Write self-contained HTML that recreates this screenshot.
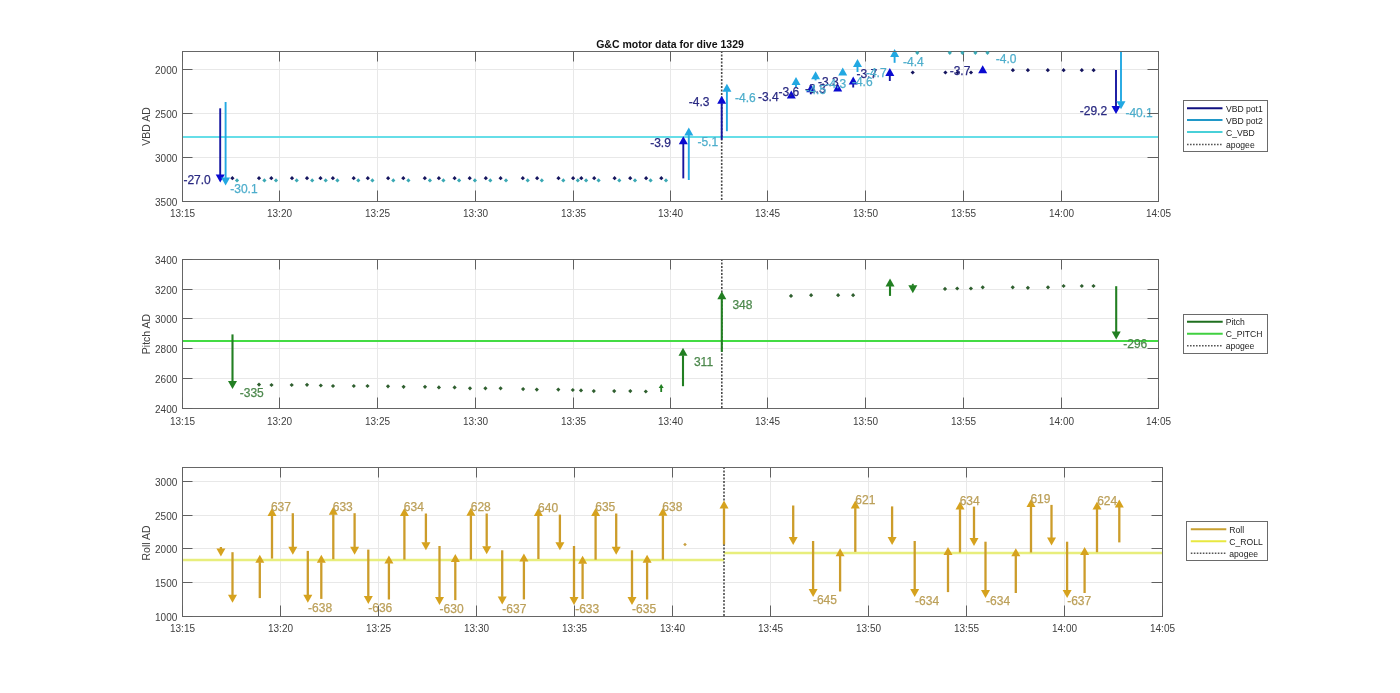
<!DOCTYPE html><html><head><meta charset="utf-8"><style>html,body{margin:0;padding:0;background:#fff;width:1400px;height:693px;overflow:hidden}svg{display:block;will-change:transform}</style></head><body>
<svg width="1400" height="693" viewBox="0 0 1400 693" font-family='"Liberation Sans", sans-serif'>
<rect width="1400" height="693" fill="#fff"/>
<line x1="279.50" y1="51" x2="279.50" y2="201" stroke="#e8e8e8" stroke-width="1"/>
<line x1="377.50" y1="51" x2="377.50" y2="201" stroke="#e8e8e8" stroke-width="1"/>
<line x1="475.50" y1="51" x2="475.50" y2="201" stroke="#e8e8e8" stroke-width="1"/>
<line x1="573.50" y1="51" x2="573.50" y2="201" stroke="#e8e8e8" stroke-width="1"/>
<line x1="670.50" y1="51" x2="670.50" y2="201" stroke="#e8e8e8" stroke-width="1"/>
<line x1="767.50" y1="51" x2="767.50" y2="201" stroke="#e8e8e8" stroke-width="1"/>
<line x1="865.50" y1="51" x2="865.50" y2="201" stroke="#e8e8e8" stroke-width="1"/>
<line x1="963.50" y1="51" x2="963.50" y2="201" stroke="#e8e8e8" stroke-width="1"/>
<line x1="1061.50" y1="51" x2="1061.50" y2="201" stroke="#e8e8e8" stroke-width="1"/>
<line x1="182" y1="69.50" x2="1158" y2="69.50" stroke="#e8e8e8" stroke-width="1"/>
<line x1="182" y1="113.50" x2="1158" y2="113.50" stroke="#e8e8e8" stroke-width="1"/>
<line x1="182" y1="157.50" x2="1158" y2="157.50" stroke="#e8e8e8" stroke-width="1"/>
<line x1="182" y1="137" x2="1158" y2="137" stroke="#66dee8" stroke-width="2.2"/>
<line x1="721.7" y1="51" x2="721.7" y2="201" stroke="#4a4a4a" stroke-width="1.6" stroke-dasharray="2 1.5"/>
<path d="M232.40 176.10L234.50 178.20L232.40 180.30L230.30 178.20Z" fill="#15155e"/>
<path d="M259.00 176.10L261.10 178.20L259.00 180.30L256.90 178.20Z" fill="#15155e"/>
<path d="M271.30 176.10L273.40 178.20L271.30 180.30L269.20 178.20Z" fill="#15155e"/>
<path d="M292.00 176.10L294.10 178.20L292.00 180.30L289.90 178.20Z" fill="#15155e"/>
<path d="M307.00 176.10L309.10 178.20L307.00 180.30L304.90 178.20Z" fill="#15155e"/>
<path d="M320.50 176.10L322.60 178.20L320.50 180.30L318.40 178.20Z" fill="#15155e"/>
<path d="M332.90 176.10L335.00 178.20L332.90 180.30L330.80 178.20Z" fill="#15155e"/>
<path d="M353.70 176.10L355.80 178.20L353.70 180.30L351.60 178.20Z" fill="#15155e"/>
<path d="M367.80 176.10L369.90 178.20L367.80 180.30L365.70 178.20Z" fill="#15155e"/>
<path d="M388.10 176.10L390.20 178.20L388.10 180.30L386.00 178.20Z" fill="#15155e"/>
<path d="M403.30 176.10L405.40 178.20L403.30 180.30L401.20 178.20Z" fill="#15155e"/>
<path d="M424.80 176.10L426.90 178.20L424.80 180.30L422.70 178.20Z" fill="#15155e"/>
<path d="M438.90 176.10L441.00 178.20L438.90 180.30L436.80 178.20Z" fill="#15155e"/>
<path d="M454.60 176.10L456.70 178.20L454.60 180.30L452.50 178.20Z" fill="#15155e"/>
<path d="M469.70 176.10L471.80 178.20L469.70 180.30L467.60 178.20Z" fill="#15155e"/>
<path d="M485.80 176.10L487.90 178.20L485.80 180.30L483.70 178.20Z" fill="#15155e"/>
<path d="M500.60 176.10L502.70 178.20L500.60 180.30L498.50 178.20Z" fill="#15155e"/>
<path d="M522.80 176.10L524.90 178.20L522.80 180.30L520.70 178.20Z" fill="#15155e"/>
<path d="M537.10 176.10L539.20 178.20L537.10 180.30L535.00 178.20Z" fill="#15155e"/>
<path d="M558.50 176.10L560.60 178.20L558.50 180.30L556.40 178.20Z" fill="#15155e"/>
<path d="M573.10 176.10L575.20 178.20L573.10 180.30L571.00 178.20Z" fill="#15155e"/>
<path d="M581.30 176.10L583.40 178.20L581.30 180.30L579.20 178.20Z" fill="#15155e"/>
<path d="M594.20 176.10L596.30 178.20L594.20 180.30L592.10 178.20Z" fill="#15155e"/>
<path d="M614.60 176.10L616.70 178.20L614.60 180.30L612.50 178.20Z" fill="#15155e"/>
<path d="M630.20 176.10L632.30 178.20L630.20 180.30L628.10 178.20Z" fill="#15155e"/>
<path d="M646.10 176.10L648.20 178.20L646.10 180.30L644.00 178.20Z" fill="#15155e"/>
<path d="M661.30 176.10L663.40 178.20L661.30 180.30L659.20 178.20Z" fill="#15155e"/>
<path d="M237.00 178.30L239.10 180.40L237.00 182.50L234.90 180.40Z" fill="#3aa8b4"/>
<path d="M264.40 178.30L266.50 180.40L264.40 182.50L262.30 180.40Z" fill="#3aa8b4"/>
<path d="M276.00 178.30L278.10 180.40L276.00 182.50L273.90 180.40Z" fill="#3aa8b4"/>
<path d="M296.70 178.30L298.80 180.40L296.70 182.50L294.60 180.40Z" fill="#3aa8b4"/>
<path d="M312.20 178.30L314.30 180.40L312.20 182.50L310.10 180.40Z" fill="#3aa8b4"/>
<path d="M325.70 178.30L327.80 180.40L325.70 182.50L323.60 180.40Z" fill="#3aa8b4"/>
<path d="M337.40 178.30L339.50 180.40L337.40 182.50L335.30 180.40Z" fill="#3aa8b4"/>
<path d="M358.30 178.30L360.40 180.40L358.30 182.50L356.20 180.40Z" fill="#3aa8b4"/>
<path d="M372.40 178.30L374.50 180.40L372.40 182.50L370.30 180.40Z" fill="#3aa8b4"/>
<path d="M393.30 178.30L395.40 180.40L393.30 182.50L391.20 180.40Z" fill="#3aa8b4"/>
<path d="M408.40 178.30L410.50 180.40L408.40 182.50L406.30 180.40Z" fill="#3aa8b4"/>
<path d="M429.90 178.30L432.00 180.40L429.90 182.50L427.80 180.40Z" fill="#3aa8b4"/>
<path d="M443.40 178.30L445.50 180.40L443.40 182.50L441.30 180.40Z" fill="#3aa8b4"/>
<path d="M459.10 178.30L461.20 180.40L459.10 182.50L457.00 180.40Z" fill="#3aa8b4"/>
<path d="M474.90 178.30L477.00 180.40L474.90 182.50L472.80 180.40Z" fill="#3aa8b4"/>
<path d="M490.30 178.30L492.40 180.40L490.30 182.50L488.20 180.40Z" fill="#3aa8b4"/>
<path d="M506.00 178.30L508.10 180.40L506.00 182.50L503.90 180.40Z" fill="#3aa8b4"/>
<path d="M527.70 178.30L529.80 180.40L527.70 182.50L525.60 180.40Z" fill="#3aa8b4"/>
<path d="M541.80 178.30L543.90 180.40L541.80 182.50L539.70 180.40Z" fill="#3aa8b4"/>
<path d="M563.30 178.30L565.40 180.40L563.30 182.50L561.20 180.40Z" fill="#3aa8b4"/>
<path d="M577.80 178.30L579.90 180.40L577.80 182.50L575.70 180.40Z" fill="#3aa8b4"/>
<path d="M586.10 178.30L588.20 180.40L586.10 182.50L584.00 180.40Z" fill="#3aa8b4"/>
<path d="M598.60 178.30L600.70 180.40L598.60 182.50L596.50 180.40Z" fill="#3aa8b4"/>
<path d="M619.30 178.30L621.40 180.40L619.30 182.50L617.20 180.40Z" fill="#3aa8b4"/>
<path d="M635.00 178.30L637.10 180.40L635.00 182.50L632.90 180.40Z" fill="#3aa8b4"/>
<path d="M650.60 178.30L652.70 180.40L650.60 182.50L648.50 180.40Z" fill="#3aa8b4"/>
<path d="M666.00 178.30L668.10 180.40L666.00 182.50L663.90 180.40Z" fill="#3aa8b4"/>
<path d="M912.70 70.40L914.80 72.50L912.70 74.60L910.60 72.50Z" fill="#15155e"/>
<path d="M945.40 70.40L947.50 72.50L945.40 74.60L943.30 72.50Z" fill="#15155e"/>
<path d="M957.50 70.40L959.60 72.50L957.50 74.60L955.40 72.50Z" fill="#15155e"/>
<path d="M971.00 70.40L973.10 72.50L971.00 74.60L968.90 72.50Z" fill="#15155e"/>
<path d="M1012.90 68.10L1015.00 70.20L1012.90 72.30L1010.80 70.20Z" fill="#15155e"/>
<path d="M1027.90 68.10L1030.00 70.20L1027.90 72.30L1025.80 70.20Z" fill="#15155e"/>
<path d="M1047.80 68.10L1049.90 70.20L1047.80 72.30L1045.70 70.20Z" fill="#15155e"/>
<path d="M1063.60 68.10L1065.70 70.20L1063.60 72.30L1061.50 70.20Z" fill="#15155e"/>
<path d="M1081.80 68.10L1083.90 70.20L1081.80 72.30L1079.70 70.20Z" fill="#15155e"/>
<path d="M1093.60 68.10L1095.70 70.20L1093.60 72.30L1091.50 70.20Z" fill="#15155e"/>
<line x1="220.20" y1="108.30" x2="220.20" y2="175.00" stroke="#1616a0" stroke-width="1.9"/>
<path d="M215.70 174.50L224.70 174.50L220.20 182.50Z" fill="#0a0ad0"/>
<line x1="225.60" y1="102.00" x2="225.60" y2="178.00" stroke="#22a8e2" stroke-width="1.9"/>
<path d="M221.10 177.50L230.10 177.50L225.60 185.50Z" fill="#22a8e2"/>
<line x1="683.30" y1="178.40" x2="683.30" y2="143.80" stroke="#1616a0" stroke-width="1.9"/>
<path d="M678.80 144.30L687.80 144.30L683.30 136.30Z" fill="#0a0ad0"/>
<line x1="688.80" y1="180.00" x2="688.80" y2="135.10" stroke="#22a8e2" stroke-width="1.9"/>
<path d="M684.30 135.60L693.30 135.60L688.80 127.60Z" fill="#22a8e2"/>
<line x1="721.70" y1="139.70" x2="721.70" y2="103.30" stroke="#1616a0" stroke-width="1.9"/>
<path d="M717.20 103.80L726.20 103.80L721.70 95.80Z" fill="#0a0ad0"/>
<line x1="726.90" y1="131.20" x2="726.90" y2="91.20" stroke="#22a8e2" stroke-width="1.9"/>
<path d="M722.40 91.70L731.40 91.70L726.90 83.70Z" fill="#22a8e2"/>
<path d="M786.80 98.40L795.80 98.40L791.30 90.40Z" fill="#0a0ad0"/>
<line x1="796.00" y1="87.00" x2="796.00" y2="84.50" stroke="#22a8e2" stroke-width="1.9"/>
<path d="M791.50 85.00L800.50 85.00L796.00 77.00Z" fill="#22a8e2"/>
<line x1="810.80" y1="94.30" x2="810.80" y2="91.70" stroke="#1616a0" stroke-width="1.9"/>
<path d="M806.30 92.20L815.30 92.20L810.80 84.20Z" fill="#0a0ad0"/>
<line x1="815.60" y1="80.40" x2="815.60" y2="78.70" stroke="#22a8e2" stroke-width="1.9"/>
<path d="M811.10 79.20L820.10 79.20L815.60 71.20Z" fill="#22a8e2"/>
<path d="M833.20 91.50L842.20 91.50L837.70 83.50Z" fill="#0a0ad0"/>
<path d="M838.20 75.60L847.20 75.60L842.70 67.60Z" fill="#22a8e2"/>
<line x1="853.20" y1="87.50" x2="853.20" y2="84.10" stroke="#1616a0" stroke-width="1.9"/>
<path d="M848.70 84.60L857.70 84.60L853.20 76.60Z" fill="#0a0ad0"/>
<line x1="857.50" y1="72.00" x2="857.50" y2="66.50" stroke="#22a8e2" stroke-width="1.9"/>
<path d="M853.00 67.00L862.00 67.00L857.50 59.00Z" fill="#22a8e2"/>
<line x1="889.80" y1="81.00" x2="889.80" y2="75.50" stroke="#1616a0" stroke-width="1.9"/>
<path d="M885.30 76.00L894.30 76.00L889.80 68.00Z" fill="#0a0ad0"/>
<line x1="894.60" y1="62.80" x2="894.60" y2="56.50" stroke="#22a8e2" stroke-width="1.9"/>
<path d="M890.10 57.00L899.10 57.00L894.60 49.00Z" fill="#22a8e2"/>
<path d="M978.20 73.30L987.20 73.30L982.70 65.30Z" fill="#0a0ad0"/>
<line x1="1116.00" y1="70.00" x2="1116.00" y2="106.60" stroke="#1616a0" stroke-width="1.9"/>
<path d="M1111.50 106.10L1120.50 106.10L1116.00 114.10Z" fill="#0a0ad0"/>
<line x1="1121.00" y1="51.60" x2="1121.00" y2="101.80" stroke="#22a8e2" stroke-width="1.9"/>
<path d="M1116.50 101.30L1125.50 101.30L1121.00 109.30Z" fill="#22a8e2"/>
<text x="183.45" y="183.90" font-size="12" fill="#2a2a82" stroke="#2a2a82" stroke-width="0.25">-27.0</text>
<text x="650.15" y="146.50" font-size="12" fill="#2a2a82" stroke="#2a2a82" stroke-width="0.25">-3.9</text>
<text x="688.85" y="105.70" font-size="12" fill="#2a2a82" stroke="#2a2a82" stroke-width="0.25">-4.3</text>
<text x="757.95" y="100.70" font-size="12" fill="#2a2a82" stroke="#2a2a82" stroke-width="0.25">-3.4</text>
<text x="778.45" y="95.70" font-size="12" fill="#2a2a82" stroke="#2a2a82" stroke-width="0.25">-3.6</text>
<text x="804.95" y="93.20" font-size="12" fill="#2a2a82" stroke="#2a2a82" stroke-width="0.25">-3.3</text>
<text x="817.95" y="85.70" font-size="12" fill="#2a2a82" stroke="#2a2a82" stroke-width="0.25">-3.3</text>
<text x="856.45" y="78.40" font-size="12" fill="#2a2a82" stroke="#2a2a82" stroke-width="0.25">-3.7</text>
<text x="949.65" y="75.00" font-size="12" fill="#2a2a82" stroke="#2a2a82" stroke-width="0.25">-3.7</text>
<text x="1079.75" y="115.00" font-size="12" fill="#2a2a82" stroke="#2a2a82" stroke-width="0.25">-29.2</text>
<text x="230.25" y="193.40" font-size="12" fill="#4eaecc" stroke="#4eaecc" stroke-width="0.25">-30.1</text>
<text x="697.45" y="146.00" font-size="12" fill="#4eaecc" stroke="#4eaecc" stroke-width="0.25">-5.1</text>
<text x="735.05" y="101.70" font-size="12" fill="#4eaecc" stroke="#4eaecc" stroke-width="0.25">-4.6</text>
<text x="805.45" y="94.20" font-size="12" fill="#4eaecc" stroke="#4eaecc" stroke-width="0.25">-4.5</text>
<text x="825.45" y="88.20" font-size="12" fill="#4eaecc" stroke="#4eaecc" stroke-width="0.25">-4.3</text>
<text x="851.95" y="85.90" font-size="12" fill="#4eaecc" stroke="#4eaecc" stroke-width="0.25">-4.6</text>
<text x="865.95" y="77.20" font-size="12" fill="#4eaecc" stroke="#4eaecc" stroke-width="0.25">-4.7</text>
<text x="903.05" y="66.00" font-size="12" fill="#4eaecc" stroke="#4eaecc" stroke-width="0.25">-4.4</text>
<text x="995.75" y="63.40" font-size="12" fill="#4eaecc" stroke="#4eaecc" stroke-width="0.25">-4.0</text>
<text x="1125.45" y="117.20" font-size="12" fill="#4eaecc" stroke="#4eaecc" stroke-width="0.25">-40.1</text>
<rect x="182.5" y="51.5" width="976" height="150" fill="none" stroke="#666666" stroke-width="1"/>
<path d="M182.50 201.5V190.5M182.50 51.5V61.5M279.50 201.5V190.5M279.50 51.5V61.5M377.50 201.5V190.5M377.50 51.5V61.5M475.50 201.5V190.5M475.50 51.5V61.5M573.50 201.5V190.5M573.50 51.5V61.5M670.50 201.5V190.5M670.50 51.5V61.5M767.50 201.5V190.5M767.50 51.5V61.5M865.50 201.5V190.5M865.50 51.5V61.5M963.50 201.5V190.5M963.50 51.5V61.5M1061.50 201.5V190.5M1061.50 51.5V61.5M1158.50 201.5V190.5M1158.50 51.5V61.5M182.5 69.50H192.5M1158.5 69.50H1147.5M182.5 113.50H192.5M1158.5 113.50H1147.5M182.5 157.50H192.5M1158.5 157.50H1147.5M182.5 201.50H192.5M1158.5 201.50H1147.5" stroke="#606060" stroke-width="1" fill="none"/>
<text x="182.50" y="217.2" text-anchor="middle" font-size="10" fill="#404040">13:15</text>
<text x="279.50" y="217.2" text-anchor="middle" font-size="10" fill="#404040">13:20</text>
<text x="377.50" y="217.2" text-anchor="middle" font-size="10" fill="#404040">13:25</text>
<text x="475.50" y="217.2" text-anchor="middle" font-size="10" fill="#404040">13:30</text>
<text x="573.50" y="217.2" text-anchor="middle" font-size="10" fill="#404040">13:35</text>
<text x="670.50" y="217.2" text-anchor="middle" font-size="10" fill="#404040">13:40</text>
<text x="767.50" y="217.2" text-anchor="middle" font-size="10" fill="#404040">13:45</text>
<text x="865.50" y="217.2" text-anchor="middle" font-size="10" fill="#404040">13:50</text>
<text x="963.50" y="217.2" text-anchor="middle" font-size="10" fill="#404040">13:55</text>
<text x="1061.50" y="217.2" text-anchor="middle" font-size="10" fill="#404040">14:00</text>
<text x="1158.50" y="217.2" text-anchor="middle" font-size="10" fill="#404040">14:05</text>
<text x="177.3" y="74.10" text-anchor="end" font-size="10" fill="#404040">2000</text>
<text x="177.3" y="118.10" text-anchor="end" font-size="10" fill="#404040">2500</text>
<text x="177.3" y="162.10" text-anchor="end" font-size="10" fill="#404040">3000</text>
<text x="177.3" y="206.10" text-anchor="end" font-size="10" fill="#404040">3500</text>
<text transform="translate(149.7,126.5) rotate(-90)" text-anchor="middle" font-size="10.5" fill="#404040">VBD AD</text>
<clipPath id="c1"><rect x="182" y="51" width="976" height="150"/></clipPath>
<g clip-path="url(#c1)">
<path d="M917.30 50.70L919.40 52.80L917.30 54.90L915.20 52.80Z" fill="#3aa8b4"/>
<path d="M949.80 50.70L951.90 52.80L949.80 54.90L947.70 52.80Z" fill="#3aa8b4"/>
<path d="M962.40 50.70L964.50 52.80L962.40 54.90L960.30 52.80Z" fill="#3aa8b4"/>
<path d="M975.40 50.70L977.50 52.80L975.40 54.90L973.30 52.80Z" fill="#3aa8b4"/>
<path d="M987.50 50.70L989.60 52.80L987.50 54.90L985.40 52.80Z" fill="#3aa8b4"/>
</g>
<text x="670" y="48.2" text-anchor="middle" font-size="10.5" font-weight="bold" fill="#111">G&amp;C motor data for dive 1329</text>
<rect x="1183.5" y="100.5" width="84" height="51" fill="#fff" stroke="#6a6a6a" stroke-width="1"/>
<line x1="1187" y1="108.2" x2="1222.5" y2="108.2" stroke="#101080" stroke-width="2"/>
<text x="1226" y="111.8" font-size="8.6" fill="#222">VBD pot1</text>
<line x1="1187" y1="120.1" x2="1222.5" y2="120.1" stroke="#2098c8" stroke-width="2"/>
<text x="1226" y="123.69999999999999" font-size="8.6" fill="#222">VBD pot2</text>
<line x1="1187" y1="132" x2="1222.5" y2="132" stroke="#48d0d8" stroke-width="2"/>
<text x="1226" y="135.6" font-size="8.6" fill="#222">C_VBD</text>
<line x1="1187" y1="144.5" x2="1222.5" y2="144.5" stroke="#555" stroke-width="1.4" stroke-dasharray="1.6 1.4"/>
<text x="1226" y="148.1" font-size="8.6" fill="#222">apogee</text>
<line x1="279.50" y1="259" x2="279.50" y2="408" stroke="#e8e8e8" stroke-width="1"/>
<line x1="377.50" y1="259" x2="377.50" y2="408" stroke="#e8e8e8" stroke-width="1"/>
<line x1="475.50" y1="259" x2="475.50" y2="408" stroke="#e8e8e8" stroke-width="1"/>
<line x1="573.50" y1="259" x2="573.50" y2="408" stroke="#e8e8e8" stroke-width="1"/>
<line x1="670.50" y1="259" x2="670.50" y2="408" stroke="#e8e8e8" stroke-width="1"/>
<line x1="767.50" y1="259" x2="767.50" y2="408" stroke="#e8e8e8" stroke-width="1"/>
<line x1="865.50" y1="259" x2="865.50" y2="408" stroke="#e8e8e8" stroke-width="1"/>
<line x1="963.50" y1="259" x2="963.50" y2="408" stroke="#e8e8e8" stroke-width="1"/>
<line x1="1061.50" y1="259" x2="1061.50" y2="408" stroke="#e8e8e8" stroke-width="1"/>
<line x1="182" y1="289.50" x2="1158" y2="289.50" stroke="#e8e8e8" stroke-width="1"/>
<line x1="182" y1="318.50" x2="1158" y2="318.50" stroke="#e8e8e8" stroke-width="1"/>
<line x1="182" y1="348.50" x2="1158" y2="348.50" stroke="#e8e8e8" stroke-width="1"/>
<line x1="182" y1="378.50" x2="1158" y2="378.50" stroke="#e8e8e8" stroke-width="1"/>
<line x1="182" y1="341" x2="1158" y2="341" stroke="#44dc44" stroke-width="2.2"/>
<line x1="721.8" y1="259" x2="721.8" y2="408" stroke="#4a4a4a" stroke-width="1.6" stroke-dasharray="2 1.5"/>
<path d="M259.00 382.50L261.10 384.60L259.00 386.70L256.90 384.60Z" fill="#2f5f2f"/>
<path d="M271.50 382.90L273.60 385.00L271.50 387.10L269.40 385.00Z" fill="#2f5f2f"/>
<path d="M291.70 382.90L293.80 385.00L291.70 387.10L289.60 385.00Z" fill="#2f5f2f"/>
<path d="M307.00 382.70L309.10 384.80L307.00 386.90L304.90 384.80Z" fill="#2f5f2f"/>
<path d="M320.80 383.40L322.90 385.50L320.80 387.60L318.70 385.50Z" fill="#2f5f2f"/>
<path d="M333.00 383.90L335.10 386.00L333.00 388.10L330.90 386.00Z" fill="#2f5f2f"/>
<path d="M353.80 383.90L355.90 386.00L353.80 388.10L351.70 386.00Z" fill="#2f5f2f"/>
<path d="M367.50 383.90L369.60 386.00L367.50 388.10L365.40 386.00Z" fill="#2f5f2f"/>
<path d="M388.00 384.20L390.10 386.30L388.00 388.40L385.90 386.30Z" fill="#2f5f2f"/>
<path d="M403.60 384.70L405.70 386.80L403.60 388.90L401.50 386.80Z" fill="#2f5f2f"/>
<path d="M425.00 384.70L427.10 386.80L425.00 388.90L422.90 386.80Z" fill="#2f5f2f"/>
<path d="M438.90 385.30L441.00 387.40L438.90 389.50L436.80 387.40Z" fill="#2f5f2f"/>
<path d="M454.60 385.30L456.70 387.40L454.60 389.50L452.50 387.40Z" fill="#2f5f2f"/>
<path d="M470.00 386.20L472.10 388.30L470.00 390.40L467.90 388.30Z" fill="#2f5f2f"/>
<path d="M485.40 386.20L487.50 388.30L485.40 390.40L483.30 388.30Z" fill="#2f5f2f"/>
<path d="M500.60 386.20L502.70 388.30L500.60 390.40L498.50 388.30Z" fill="#2f5f2f"/>
<path d="M523.10 387.00L525.20 389.10L523.10 391.20L521.00 389.10Z" fill="#2f5f2f"/>
<path d="M536.80 387.50L538.90 389.60L536.80 391.70L534.70 389.60Z" fill="#2f5f2f"/>
<path d="M558.30 387.50L560.40 389.60L558.30 391.70L556.20 389.60Z" fill="#2f5f2f"/>
<path d="M572.80 387.90L574.90 390.00L572.80 392.10L570.70 390.00Z" fill="#2f5f2f"/>
<path d="M581.00 388.30L583.10 390.40L581.00 392.50L578.90 390.40Z" fill="#2f5f2f"/>
<path d="M593.80 389.00L595.90 391.10L593.80 393.20L591.70 391.10Z" fill="#2f5f2f"/>
<path d="M614.20 389.00L616.30 391.10L614.20 393.20L612.10 391.10Z" fill="#2f5f2f"/>
<path d="M630.30 389.00L632.40 391.10L630.30 393.20L628.20 391.10Z" fill="#2f5f2f"/>
<path d="M645.80 389.40L647.90 391.50L645.80 393.60L643.70 391.50Z" fill="#2f5f2f"/>
<path d="M791.00 293.80L793.10 295.90L791.00 298.00L788.90 295.90Z" fill="#2f5f2f"/>
<path d="M811.10 293.10L813.20 295.20L811.10 297.30L809.00 295.20Z" fill="#2f5f2f"/>
<path d="M838.10 293.10L840.20 295.20L838.10 297.30L836.00 295.20Z" fill="#2f5f2f"/>
<path d="M853.10 293.10L855.20 295.20L853.10 297.30L851.00 295.20Z" fill="#2f5f2f"/>
<path d="M945.00 286.80L947.10 288.90L945.00 291.00L942.90 288.90Z" fill="#2f5f2f"/>
<path d="M957.20 286.40L959.30 288.50L957.20 290.60L955.10 288.50Z" fill="#2f5f2f"/>
<path d="M970.90 286.40L973.00 288.50L970.90 290.60L968.80 288.50Z" fill="#2f5f2f"/>
<path d="M982.70 285.20L984.80 287.30L982.70 289.40L980.60 287.30Z" fill="#2f5f2f"/>
<path d="M1012.70 285.20L1014.80 287.30L1012.70 289.40L1010.60 287.30Z" fill="#2f5f2f"/>
<path d="M1027.90 285.70L1030.00 287.80L1027.90 289.90L1025.80 287.80Z" fill="#2f5f2f"/>
<path d="M1048.00 285.20L1050.10 287.30L1048.00 289.40L1045.90 287.30Z" fill="#2f5f2f"/>
<path d="M1063.60 283.90L1065.70 286.00L1063.60 288.10L1061.50 286.00Z" fill="#2f5f2f"/>
<path d="M1081.80 283.90L1083.90 286.00L1081.80 288.10L1079.70 286.00Z" fill="#2f5f2f"/>
<path d="M1093.50 283.90L1095.60 286.00L1093.50 288.10L1091.40 286.00Z" fill="#2f5f2f"/>
<line x1="232.50" y1="334.40" x2="232.50" y2="381.50" stroke="#227f22" stroke-width="2.1"/>
<path d="M228.00 381.00L237.00 381.00L232.50 389.00Z" fill="#227f22"/>
<line x1="661.20" y1="392.00" x2="661.20" y2="387.50" stroke="#227f22" stroke-width="1.8"/>
<path d="M658.70 388.00L663.70 388.00L661.20 384.00Z" fill="#227f22"/>
<line x1="683.00" y1="386.20" x2="683.00" y2="355.30" stroke="#227f22" stroke-width="2.1"/>
<path d="M678.50 355.80L687.50 355.80L683.00 347.80Z" fill="#227f22"/>
<line x1="721.80" y1="351.80" x2="721.80" y2="298.70" stroke="#227f22" stroke-width="2.1"/>
<path d="M717.30 299.20L726.30 299.20L721.80 291.20Z" fill="#227f22"/>
<line x1="890.00" y1="295.90" x2="890.00" y2="286.10" stroke="#227f22" stroke-width="2.1"/>
<path d="M885.50 286.60L894.50 286.60L890.00 278.60Z" fill="#227f22"/>
<line x1="912.80" y1="283.80" x2="912.80" y2="285.80" stroke="#227f22" stroke-width="1.9"/>
<path d="M908.30 285.30L917.30 285.30L912.80 293.30Z" fill="#227f22"/>
<line x1="1116.20" y1="286.20" x2="1116.20" y2="332.00" stroke="#227f22" stroke-width="2.1"/>
<path d="M1111.70 331.50L1120.70 331.50L1116.20 339.50Z" fill="#227f22"/>
<text x="239.75" y="397.00" font-size="12" fill="#4c884c" stroke="#4c884c" stroke-width="0.25">-335</text>
<text x="693.95" y="366.10" font-size="12" fill="#4c884c" stroke="#4c884c" stroke-width="0.25">311</text>
<text x="732.45" y="308.90" font-size="12" fill="#4c884c" stroke="#4c884c" stroke-width="0.25">348</text>
<text x="1123.25" y="348.20" font-size="12" fill="#4c884c" stroke="#4c884c" stroke-width="0.25">-296</text>
<rect x="182.5" y="259.5" width="976" height="149" fill="none" stroke="#666666" stroke-width="1"/>
<path d="M182.50 408.5V397.5M182.50 259.5V269.5M279.50 408.5V397.5M279.50 259.5V269.5M377.50 408.5V397.5M377.50 259.5V269.5M475.50 408.5V397.5M475.50 259.5V269.5M573.50 408.5V397.5M573.50 259.5V269.5M670.50 408.5V397.5M670.50 259.5V269.5M767.50 408.5V397.5M767.50 259.5V269.5M865.50 408.5V397.5M865.50 259.5V269.5M963.50 408.5V397.5M963.50 259.5V269.5M1061.50 408.5V397.5M1061.50 259.5V269.5M1158.50 408.5V397.5M1158.50 259.5V269.5M182.5 259.50H192.5M1158.5 259.50H1147.5M182.5 289.50H192.5M1158.5 289.50H1147.5M182.5 318.50H192.5M1158.5 318.50H1147.5M182.5 348.50H192.5M1158.5 348.50H1147.5M182.5 378.50H192.5M1158.5 378.50H1147.5M182.5 408.50H192.5M1158.5 408.50H1147.5" stroke="#606060" stroke-width="1" fill="none"/>
<text x="182.50" y="424.6" text-anchor="middle" font-size="10" fill="#404040">13:15</text>
<text x="279.50" y="424.6" text-anchor="middle" font-size="10" fill="#404040">13:20</text>
<text x="377.50" y="424.6" text-anchor="middle" font-size="10" fill="#404040">13:25</text>
<text x="475.50" y="424.6" text-anchor="middle" font-size="10" fill="#404040">13:30</text>
<text x="573.50" y="424.6" text-anchor="middle" font-size="10" fill="#404040">13:35</text>
<text x="670.50" y="424.6" text-anchor="middle" font-size="10" fill="#404040">13:40</text>
<text x="767.50" y="424.6" text-anchor="middle" font-size="10" fill="#404040">13:45</text>
<text x="865.50" y="424.6" text-anchor="middle" font-size="10" fill="#404040">13:50</text>
<text x="963.50" y="424.6" text-anchor="middle" font-size="10" fill="#404040">13:55</text>
<text x="1061.50" y="424.6" text-anchor="middle" font-size="10" fill="#404040">14:00</text>
<text x="1158.50" y="424.6" text-anchor="middle" font-size="10" fill="#404040">14:05</text>
<text x="177.3" y="264.10" text-anchor="end" font-size="10" fill="#404040">3400</text>
<text x="177.3" y="294.10" text-anchor="end" font-size="10" fill="#404040">3200</text>
<text x="177.3" y="323.10" text-anchor="end" font-size="10" fill="#404040">3000</text>
<text x="177.3" y="353.10" text-anchor="end" font-size="10" fill="#404040">2800</text>
<text x="177.3" y="383.10" text-anchor="end" font-size="10" fill="#404040">2600</text>
<text x="177.3" y="413.10" text-anchor="end" font-size="10" fill="#404040">2400</text>
<text transform="translate(149.7,334) rotate(-90)" text-anchor="middle" font-size="10.5" fill="#404040">Pitch AD</text>
<rect x="1183.5" y="314.5" width="84" height="39" fill="#fff" stroke="#6a6a6a" stroke-width="1"/>
<line x1="1187" y1="321.7" x2="1222.7" y2="321.7" stroke="#1f6f1f" stroke-width="2"/>
<text x="1225.7" y="325.3" font-size="8.6" fill="#222">Pitch</text>
<line x1="1187" y1="333.7" x2="1222.7" y2="333.7" stroke="#40d040" stroke-width="2"/>
<text x="1225.7" y="337.3" font-size="8.6" fill="#222">C_PITCH</text>
<line x1="1187" y1="345.7" x2="1222.7" y2="345.7" stroke="#555" stroke-width="1.4" stroke-dasharray="1.6 1.4"/>
<text x="1225.7" y="349.3" font-size="8.6" fill="#222">apogee</text>
<line x1="280.50" y1="467" x2="280.50" y2="616" stroke="#e8e8e8" stroke-width="1"/>
<line x1="378.50" y1="467" x2="378.50" y2="616" stroke="#e8e8e8" stroke-width="1"/>
<line x1="476.50" y1="467" x2="476.50" y2="616" stroke="#e8e8e8" stroke-width="1"/>
<line x1="574.50" y1="467" x2="574.50" y2="616" stroke="#e8e8e8" stroke-width="1"/>
<line x1="672.50" y1="467" x2="672.50" y2="616" stroke="#e8e8e8" stroke-width="1"/>
<line x1="770.50" y1="467" x2="770.50" y2="616" stroke="#e8e8e8" stroke-width="1"/>
<line x1="868.50" y1="467" x2="868.50" y2="616" stroke="#e8e8e8" stroke-width="1"/>
<line x1="966.50" y1="467" x2="966.50" y2="616" stroke="#e8e8e8" stroke-width="1"/>
<line x1="1064.50" y1="467" x2="1064.50" y2="616" stroke="#e8e8e8" stroke-width="1"/>
<line x1="182" y1="481.50" x2="1162" y2="481.50" stroke="#e8e8e8" stroke-width="1"/>
<line x1="182" y1="515.50" x2="1162" y2="515.50" stroke="#e8e8e8" stroke-width="1"/>
<line x1="182" y1="548.50" x2="1162" y2="548.50" stroke="#e8e8e8" stroke-width="1"/>
<line x1="182" y1="582.50" x2="1162" y2="582.50" stroke="#e8e8e8" stroke-width="1"/>
<line x1="182" y1="560" x2="724" y2="560" stroke="#e8ee7c" stroke-width="2.4"/>
<line x1="724" y1="553" x2="1162" y2="553" stroke="#e8ee7c" stroke-width="2.4"/>
<line x1="724" y1="467" x2="724" y2="616" stroke="#4a4a4a" stroke-width="1.6" stroke-dasharray="2 1.5"/>
<line x1="220.90" y1="547.00" x2="220.90" y2="549.10" stroke="#cc9c2a" stroke-width="2.3"/>
<path d="M216.40 548.60L225.40 548.60L220.90 556.60Z" fill="#d6a21e"/>
<line x1="232.50" y1="552.20" x2="232.50" y2="595.30" stroke="#cc9c2a" stroke-width="2.3"/>
<path d="M228.00 594.80L237.00 594.80L232.50 602.80Z" fill="#d6a21e"/>
<line x1="259.80" y1="598.10" x2="259.80" y2="562.30" stroke="#cc9c2a" stroke-width="2.3"/>
<path d="M255.30 562.80L264.30 562.80L259.80 554.80Z" fill="#d6a21e"/>
<line x1="272.00" y1="558.60" x2="272.00" y2="515.50" stroke="#cc9c2a" stroke-width="2.3"/>
<path d="M267.50 516.00L276.50 516.00L272.00 508.00Z" fill="#d6a21e"/>
<line x1="292.80" y1="513.20" x2="292.80" y2="547.30" stroke="#cc9c2a" stroke-width="2.3"/>
<path d="M288.30 546.80L297.30 546.80L292.80 554.80Z" fill="#d6a21e"/>
<line x1="307.80" y1="550.90" x2="307.80" y2="595.30" stroke="#cc9c2a" stroke-width="2.3"/>
<path d="M303.30 594.80L312.30 594.80L307.80 602.80Z" fill="#d6a21e"/>
<line x1="321.30" y1="598.90" x2="321.30" y2="562.30" stroke="#cc9c2a" stroke-width="2.3"/>
<path d="M316.80 562.80L325.80 562.80L321.30 554.80Z" fill="#d6a21e"/>
<line x1="333.30" y1="559.20" x2="333.30" y2="514.20" stroke="#cc9c2a" stroke-width="2.3"/>
<path d="M328.80 514.70L337.80 514.70L333.30 506.70Z" fill="#d6a21e"/>
<line x1="354.60" y1="513.20" x2="354.60" y2="547.30" stroke="#cc9c2a" stroke-width="2.3"/>
<path d="M350.10 546.80L359.10 546.80L354.60 554.80Z" fill="#d6a21e"/>
<line x1="368.30" y1="549.60" x2="368.30" y2="596.60" stroke="#cc9c2a" stroke-width="2.3"/>
<path d="M363.80 596.10L372.80 596.10L368.30 604.10Z" fill="#d6a21e"/>
<line x1="388.90" y1="599.50" x2="388.90" y2="563.10" stroke="#cc9c2a" stroke-width="2.3"/>
<path d="M384.40 563.60L393.40 563.60L388.90 555.60Z" fill="#d6a21e"/>
<line x1="404.40" y1="559.60" x2="404.40" y2="515.60" stroke="#cc9c2a" stroke-width="2.3"/>
<path d="M399.90 516.10L408.90 516.10L404.40 508.10Z" fill="#d6a21e"/>
<line x1="425.90" y1="513.50" x2="425.90" y2="542.80" stroke="#cc9c2a" stroke-width="2.3"/>
<path d="M421.40 542.30L430.40 542.30L425.90 550.30Z" fill="#d6a21e"/>
<line x1="439.50" y1="546.00" x2="439.50" y2="597.60" stroke="#cc9c2a" stroke-width="2.3"/>
<path d="M435.00 597.10L444.00 597.10L439.50 605.10Z" fill="#d6a21e"/>
<line x1="455.30" y1="600.10" x2="455.30" y2="561.50" stroke="#cc9c2a" stroke-width="2.3"/>
<path d="M450.80 562.00L459.80 562.00L455.30 554.00Z" fill="#d6a21e"/>
<line x1="470.90" y1="559.60" x2="470.90" y2="515.20" stroke="#cc9c2a" stroke-width="2.3"/>
<path d="M466.40 515.70L475.40 515.70L470.90 507.70Z" fill="#d6a21e"/>
<line x1="486.70" y1="513.50" x2="486.70" y2="546.70" stroke="#cc9c2a" stroke-width="2.3"/>
<path d="M482.20 546.20L491.20 546.20L486.70 554.20Z" fill="#d6a21e"/>
<line x1="502.20" y1="550.30" x2="502.20" y2="596.90" stroke="#cc9c2a" stroke-width="2.3"/>
<path d="M497.70 596.40L506.70 596.40L502.20 604.40Z" fill="#d6a21e"/>
<line x1="523.90" y1="599.40" x2="523.90" y2="561.10" stroke="#cc9c2a" stroke-width="2.3"/>
<path d="M519.40 561.60L528.40 561.60L523.90 553.60Z" fill="#d6a21e"/>
<line x1="538.40" y1="559.00" x2="538.40" y2="515.60" stroke="#cc9c2a" stroke-width="2.3"/>
<path d="M533.90 516.10L542.90 516.10L538.40 508.10Z" fill="#d6a21e"/>
<line x1="559.90" y1="514.60" x2="559.90" y2="542.80" stroke="#cc9c2a" stroke-width="2.3"/>
<path d="M555.40 542.30L564.40 542.30L559.90 550.30Z" fill="#d6a21e"/>
<line x1="574.00" y1="546.00" x2="574.00" y2="597.60" stroke="#cc9c2a" stroke-width="2.3"/>
<path d="M569.50 597.10L578.50 597.10L574.00 605.10Z" fill="#d6a21e"/>
<line x1="582.60" y1="599.00" x2="582.60" y2="563.30" stroke="#cc9c2a" stroke-width="2.3"/>
<path d="M578.10 563.80L587.10 563.80L582.60 555.80Z" fill="#d6a21e"/>
<line x1="595.60" y1="559.70" x2="595.60" y2="515.60" stroke="#cc9c2a" stroke-width="2.3"/>
<path d="M591.10 516.10L600.10 516.10L595.60 508.10Z" fill="#d6a21e"/>
<line x1="616.20" y1="513.50" x2="616.20" y2="547.20" stroke="#cc9c2a" stroke-width="2.3"/>
<path d="M611.70 546.70L620.70 546.70L616.20 554.70Z" fill="#d6a21e"/>
<line x1="632.00" y1="550.30" x2="632.00" y2="597.60" stroke="#cc9c2a" stroke-width="2.3"/>
<path d="M627.50 597.10L636.50 597.10L632.00 605.10Z" fill="#d6a21e"/>
<line x1="647.10" y1="599.50" x2="647.10" y2="562.20" stroke="#cc9c2a" stroke-width="2.3"/>
<path d="M642.60 562.70L651.60 562.70L647.10 554.70Z" fill="#d6a21e"/>
<line x1="662.90" y1="559.70" x2="662.90" y2="515.20" stroke="#cc9c2a" stroke-width="2.3"/>
<path d="M658.40 515.70L667.40 515.70L662.90 507.70Z" fill="#d6a21e"/>
<line x1="724.00" y1="544.50" x2="724.00" y2="508.10" stroke="#cc9c2a" stroke-width="2.3"/>
<path d="M719.50 508.60L728.50 508.60L724.00 500.60Z" fill="#d6a21e"/>
<line x1="793.20" y1="505.50" x2="793.20" y2="537.50" stroke="#cc9c2a" stroke-width="2.3"/>
<path d="M788.70 537.00L797.70 537.00L793.20 545.00Z" fill="#d6a21e"/>
<line x1="813.10" y1="541.00" x2="813.10" y2="589.40" stroke="#cc9c2a" stroke-width="2.3"/>
<path d="M808.60 588.90L817.60 588.90L813.10 596.90Z" fill="#d6a21e"/>
<line x1="840.10" y1="591.50" x2="840.10" y2="555.70" stroke="#cc9c2a" stroke-width="2.3"/>
<path d="M835.60 556.20L844.60 556.20L840.10 548.20Z" fill="#d6a21e"/>
<line x1="855.30" y1="551.90" x2="855.30" y2="508.10" stroke="#cc9c2a" stroke-width="2.3"/>
<path d="M850.80 508.60L859.80 508.60L855.30 500.60Z" fill="#d6a21e"/>
<line x1="892.10" y1="506.40" x2="892.10" y2="537.50" stroke="#cc9c2a" stroke-width="2.3"/>
<path d="M887.60 537.00L896.60 537.00L892.10 545.00Z" fill="#d6a21e"/>
<line x1="914.70" y1="541.00" x2="914.70" y2="589.40" stroke="#cc9c2a" stroke-width="2.3"/>
<path d="M910.20 588.90L919.20 588.90L914.70 596.90Z" fill="#d6a21e"/>
<line x1="948.00" y1="592.10" x2="948.00" y2="554.60" stroke="#cc9c2a" stroke-width="2.3"/>
<path d="M943.50 555.10L952.50 555.10L948.00 547.10Z" fill="#d6a21e"/>
<line x1="960.00" y1="552.50" x2="960.00" y2="509.10" stroke="#cc9c2a" stroke-width="2.3"/>
<path d="M955.50 509.60L964.50 509.60L960.00 501.60Z" fill="#d6a21e"/>
<line x1="974.00" y1="506.60" x2="974.00" y2="538.50" stroke="#cc9c2a" stroke-width="2.3"/>
<path d="M969.50 538.00L978.50 538.00L974.00 546.00Z" fill="#d6a21e"/>
<line x1="985.50" y1="541.70" x2="985.50" y2="590.50" stroke="#cc9c2a" stroke-width="2.3"/>
<path d="M981.00 590.00L990.00 590.00L985.50 598.00Z" fill="#d6a21e"/>
<line x1="1015.80" y1="593.00" x2="1015.80" y2="555.70" stroke="#cc9c2a" stroke-width="2.3"/>
<path d="M1011.30 556.20L1020.30 556.20L1015.80 548.20Z" fill="#d6a21e"/>
<line x1="1031.00" y1="552.50" x2="1031.00" y2="506.50" stroke="#cc9c2a" stroke-width="2.3"/>
<path d="M1026.50 507.00L1035.50 507.00L1031.00 499.00Z" fill="#d6a21e"/>
<line x1="1051.50" y1="504.90" x2="1051.50" y2="538.10" stroke="#cc9c2a" stroke-width="2.3"/>
<path d="M1047.00 537.60L1056.00 537.60L1051.50 545.60Z" fill="#d6a21e"/>
<line x1="1067.10" y1="541.70" x2="1067.10" y2="590.50" stroke="#cc9c2a" stroke-width="2.3"/>
<path d="M1062.60 590.00L1071.60 590.00L1067.10 598.00Z" fill="#d6a21e"/>
<line x1="1084.60" y1="593.00" x2="1084.60" y2="554.60" stroke="#cc9c2a" stroke-width="2.3"/>
<path d="M1080.10 555.10L1089.10 555.10L1084.60 547.10Z" fill="#d6a21e"/>
<line x1="1097.00" y1="552.20" x2="1097.00" y2="508.90" stroke="#cc9c2a" stroke-width="2.3"/>
<path d="M1092.50 509.40L1101.50 509.40L1097.00 501.40Z" fill="#d6a21e"/>
<line x1="1119.30" y1="542.40" x2="1119.30" y2="507.00" stroke="#cc9c2a" stroke-width="2.3"/>
<path d="M1114.80 507.50L1123.80 507.50L1119.30 499.50Z" fill="#d6a21e"/>
<path d="M685.00 542.70L686.80 544.50L685.00 546.30L683.20 544.50Z" fill="#c8a040"/>
<text x="270.95" y="510.90" font-size="12" fill="#bca05a" stroke="#bca05a" stroke-width="0.25">637</text>
<text x="308.05" y="612.20" font-size="12" fill="#bca05a" stroke="#bca05a" stroke-width="0.25">-638</text>
<text x="332.75" y="510.90" font-size="12" fill="#bca05a" stroke="#bca05a" stroke-width="0.25">633</text>
<text x="368.25" y="612.20" font-size="12" fill="#bca05a" stroke="#bca05a" stroke-width="0.25">-636</text>
<text x="403.85" y="511.20" font-size="12" fill="#bca05a" stroke="#bca05a" stroke-width="0.25">634</text>
<text x="439.55" y="612.90" font-size="12" fill="#bca05a" stroke="#bca05a" stroke-width="0.25">-630</text>
<text x="470.75" y="510.60" font-size="12" fill="#bca05a" stroke="#bca05a" stroke-width="0.25">628</text>
<text x="502.35" y="612.90" font-size="12" fill="#bca05a" stroke="#bca05a" stroke-width="0.25">-637</text>
<text x="538.05" y="511.90" font-size="12" fill="#bca05a" stroke="#bca05a" stroke-width="0.25">640</text>
<text x="575.15" y="613.00" font-size="12" fill="#bca05a" stroke="#bca05a" stroke-width="0.25">-633</text>
<text x="595.25" y="511.20" font-size="12" fill="#bca05a" stroke="#bca05a" stroke-width="0.25">635</text>
<text x="632.05" y="613.00" font-size="12" fill="#bca05a" stroke="#bca05a" stroke-width="0.25">-635</text>
<text x="662.35" y="511.20" font-size="12" fill="#bca05a" stroke="#bca05a" stroke-width="0.25">638</text>
<text x="812.95" y="604.30" font-size="12" fill="#bca05a" stroke="#bca05a" stroke-width="0.25">-645</text>
<text x="855.35" y="504.10" font-size="12" fill="#bca05a" stroke="#bca05a" stroke-width="0.25">621</text>
<text x="915.05" y="605.00" font-size="12" fill="#bca05a" stroke="#bca05a" stroke-width="0.25">-634</text>
<text x="959.65" y="505.40" font-size="12" fill="#bca05a" stroke="#bca05a" stroke-width="0.25">634</text>
<text x="986.05" y="605.00" font-size="12" fill="#bca05a" stroke="#bca05a" stroke-width="0.25">-634</text>
<text x="1030.45" y="502.60" font-size="12" fill="#bca05a" stroke="#bca05a" stroke-width="0.25">619</text>
<text x="1067.15" y="605.00" font-size="12" fill="#bca05a" stroke="#bca05a" stroke-width="0.25">-637</text>
<text x="1097.15" y="504.90" font-size="12" fill="#bca05a" stroke="#bca05a" stroke-width="0.25">624</text>
<rect x="182.5" y="467.5" width="980" height="149" fill="none" stroke="#666666" stroke-width="1"/>
<path d="M182.50 616.5V605.5M182.50 467.5V477.5M280.50 616.5V605.5M280.50 467.5V477.5M378.50 616.5V605.5M378.50 467.5V477.5M476.50 616.5V605.5M476.50 467.5V477.5M574.50 616.5V605.5M574.50 467.5V477.5M672.50 616.5V605.5M672.50 467.5V477.5M770.50 616.5V605.5M770.50 467.5V477.5M868.50 616.5V605.5M868.50 467.5V477.5M966.50 616.5V605.5M966.50 467.5V477.5M1064.50 616.5V605.5M1064.50 467.5V477.5M1162.50 616.5V605.5M1162.50 467.5V477.5M182.5 481.50H192.5M1162.5 481.50H1151.5M182.5 515.50H192.5M1162.5 515.50H1151.5M182.5 548.50H192.5M1162.5 548.50H1151.5M182.5 582.50H192.5M1162.5 582.50H1151.5M182.5 616.50H192.5M1162.5 616.50H1151.5" stroke="#606060" stroke-width="1" fill="none"/>
<text x="182.50" y="632.2" text-anchor="middle" font-size="10" fill="#404040">13:15</text>
<text x="280.50" y="632.2" text-anchor="middle" font-size="10" fill="#404040">13:20</text>
<text x="378.50" y="632.2" text-anchor="middle" font-size="10" fill="#404040">13:25</text>
<text x="476.50" y="632.2" text-anchor="middle" font-size="10" fill="#404040">13:30</text>
<text x="574.50" y="632.2" text-anchor="middle" font-size="10" fill="#404040">13:35</text>
<text x="672.50" y="632.2" text-anchor="middle" font-size="10" fill="#404040">13:40</text>
<text x="770.50" y="632.2" text-anchor="middle" font-size="10" fill="#404040">13:45</text>
<text x="868.50" y="632.2" text-anchor="middle" font-size="10" fill="#404040">13:50</text>
<text x="966.50" y="632.2" text-anchor="middle" font-size="10" fill="#404040">13:55</text>
<text x="1064.50" y="632.2" text-anchor="middle" font-size="10" fill="#404040">14:00</text>
<text x="1162.50" y="632.2" text-anchor="middle" font-size="10" fill="#404040">14:05</text>
<text x="177.3" y="486.10" text-anchor="end" font-size="10" fill="#404040">3000</text>
<text x="177.3" y="520.10" text-anchor="end" font-size="10" fill="#404040">2500</text>
<text x="177.3" y="553.10" text-anchor="end" font-size="10" fill="#404040">2000</text>
<text x="177.3" y="587.10" text-anchor="end" font-size="10" fill="#404040">1500</text>
<text x="177.3" y="621.10" text-anchor="end" font-size="10" fill="#404040">1000</text>
<text transform="translate(149.7,543) rotate(-90)" text-anchor="middle" font-size="10.5" fill="#404040">Roll AD</text>
<rect x="1186.5" y="521.5" width="81" height="39" fill="#fff" stroke="#6a6a6a" stroke-width="1"/>
<line x1="1190.8" y1="529.2" x2="1226.3" y2="529.2" stroke="#c8a030" stroke-width="2"/>
<text x="1229.3" y="532.8000000000001" font-size="8.6" fill="#222">Roll</text>
<line x1="1190.8" y1="541.3" x2="1226.3" y2="541.3" stroke="#e8e840" stroke-width="2"/>
<text x="1229.3" y="544.9" font-size="8.6" fill="#222">C_ROLL</text>
<line x1="1190.8" y1="553.3" x2="1226.3" y2="553.3" stroke="#555" stroke-width="1.4" stroke-dasharray="1.6 1.4"/>
<text x="1229.3" y="556.9" font-size="8.6" fill="#222">apogee</text>
</svg></body></html>
